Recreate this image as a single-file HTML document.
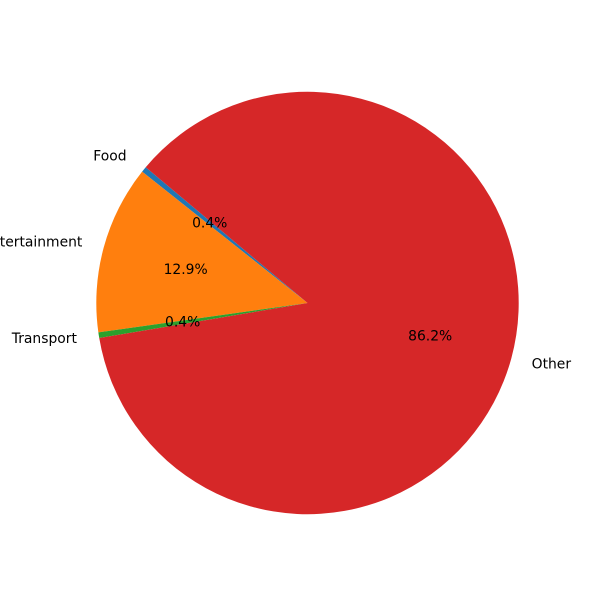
<!DOCTYPE html>
<html>
<head>
<meta charset="utf-8">
<title>Pie chart</title>
<style>
html,body{margin:0;padding:0;background:#fff;width:600px;height:600px;overflow:hidden}
svg{display:block}
text{font-family:"DejaVu Sans",sans-serif;font-size:13.89px;fill:#000}
</style>
</head>
<body>
<svg id="chart" width="600" height="600" viewBox="0 0 600 600" xmlns="http://www.w3.org/2000/svg"></svg>
<script>
const categories = ["Food", "Entertainment", "Transport", "Other"];
const seriesValues = [0.43, 12.9, 0.43, 86.2];
const sliceColors = ["#1f77b4", "#ff7f0e", "#2ca02c", "#d62728"];
const startAngle = 140;

const svg = document.getElementById('chart');
const NS = 'http://www.w3.org/2000/svg';
const cx = 307.5, cy = 303, radius = 211.2;
const total = seriesValues.reduce(function (a, b) { return a + b; }, 0);

function angleScale(v) { return v / total * 360; }
function px(deg, r) { return cx + r * Math.cos(deg * Math.PI / 180); }
function py(deg, r) { return cy - r * Math.sin(deg * Math.PI / 180); }
function slug(s) { return s.toLowerCase().replace(/\s+/g, '-'); }

let current = startAngle;
const wedgeLayer = document.createElementNS(NS, 'g');


svg.appendChild(wedgeLayer);

categories.forEach(function (cat, i) {
  const span = angleScale(seriesValues[i]);
  const end = current + span;
  const mid = current + span / 2;
  const large = span > 180 ? 1 : 0;

  const wedge = document.createElementNS(NS, 'path');
  wedge.setAttribute('d',
    'M' + cx + ' ' + cy +
    'L' + px(current, radius) + ' ' + py(current, radius) +
    'A' + radius + ' ' + radius + ' 0 ' + large + ' 0 ' + px(end, radius) + ' ' + py(end, radius) + 'Z');
  wedge.setAttribute('fill', sliceColors[i]);
  
  
  wedgeLayer.appendChild(wedge);

  const leftSide = Math.cos(mid * Math.PI / 180) < 0;
  const label = document.createElementNS(NS, 'text');
  label.setAttribute('x', px(mid, radius * 1.1) + (leftSide ? -1 : 0));
  label.setAttribute('y', py(mid, radius * 1.1) + 4.4);
  label.setAttribute('text-anchor', leftSide ? 'end' : 'start');
  label.textContent = cat;
  
  
  svg.appendChild(label);

  const pct = document.createElementNS(NS, 'text');
  pct.setAttribute('x', px(mid, radius * 0.6) + 0.4);
  pct.setAttribute('y', py(mid, radius * 0.6) + 4.4);
  pct.setAttribute('text-anchor', 'middle');
  pct.textContent = (seriesValues[i] / total * 100).toFixed(1) + '%';
  
  
  svg.appendChild(pct);

  current = end;
});
</script>
</body>
</html>
